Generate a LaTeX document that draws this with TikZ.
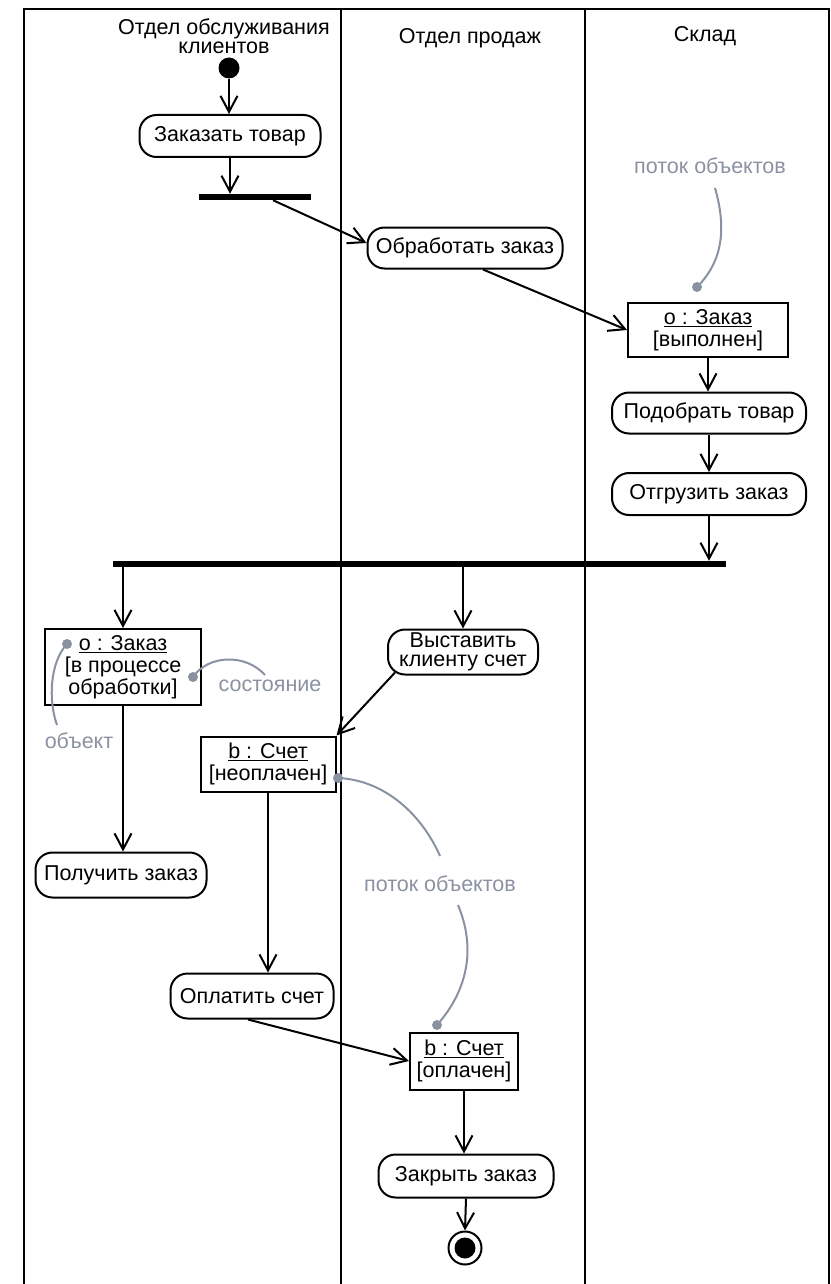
\documentclass[tikz,border=0pt]{standalone}
\usepackage{fontspec}
\setmainfont{Liberation Sans}
\usetikzlibrary{arrows.meta,calc}
\definecolor{notegray}{RGB}{138,146,162}
\tikzset{
  action/.style={draw, line width=2pt, rounded corners=17pt, minimum height=42pt, inner sep=0pt, align=center, font=\fontsize{21.5}{22}\selectfont},
  objbox/.style={draw, line width=2pt, rectangle, inner sep=0pt, align=center, font=\fontsize{21.5}{22}\selectfont},
  forkbar/.style={fill=black, inner sep=0pt, minimum height=6pt},
  flow/.style={line width=2pt, -{Straight Barb[length=16pt,width=17pt]}},
  noteline/.style={draw=notegray, line width=2pt},
  notedot/.style={circle, fill=notegray, inner sep=0pt, minimum size=10pt},
  notetext/.style={text=notegray, font=\fontsize{21.5}{22}\selectfont, inner sep=0pt},
  header/.style={font=\fontsize{21.5}{19.5}\selectfont, align=center, inner sep=0pt},
}
\begin{document}
\begin{tikzpicture}[x=1pt,y=-1pt]
\useasboundingbox (0,0) rectangle (830,1284);
% swimlane frame
\draw[line width=2pt] (24,1284) -- (24,9) -- (829,9) -- (829,1284);
\draw[line width=2pt] (341,9) -- (341,1284);
\draw[line width=2pt] (585,9) -- (585,1284);
% headers
\node[header] (h1) at (224,36) {Отдел обслуживания\\клиентов};
\node[header] (h2) at (470,38) {Отдел продаж};
\node[header] (h3) at (705,36) {Склад};
% nodes
\node[circle, fill=black, minimum size=21pt, inner sep=0pt] (init) at (229,68) {};
\node[action, minimum width=181pt] (a1) at (230,136) {Заказать товар};
\node[forkbar, minimum width=112pt] (b1) at (255,197) {};
\node[action, minimum width=195pt, minimum height=41pt] (a2) at (465,248) {Обработать заказ};
\node[objbox, minimum width=160pt, minimum height=54pt] (o1) at (708,330) {\underline{o : Заказ}\\{}[выполнен]};
\node[action, minimum width=194pt, minimum height=41pt] (a3) at (709,413) {Подобрать товар};
\node[action, minimum width=194pt] (a4) at (709,494) {Отгрузить заказ};
\node[forkbar, minimum width=613pt] (b2) at (419.5,564) {};
\node[objbox, minimum width=156pt, minimum height=76pt] (o2) at (123,667) {\underline{o : Заказ}\\{}[в процессе\\обработки]};
\node[action, minimum width=150pt, minimum height=45pt, font=\fontsize{21.5}{19}\selectfont] (a5) at (463,652) {Выставить\\клиенту счет};
\node[objbox, minimum width=135pt, minimum height=55pt] (o3) at (268,764) {\underline{b : Счет}\\{}[неоплачен]};
\node[action, minimum width=171pt, minimum height=45pt] (a6) at (121,875) {Получить заказ};
\node[action, minimum width=163pt, minimum height=45pt] (a7) at (252,996) {Оплатить счет};
\node[objbox, minimum width=108pt, minimum height=57pt] (o4) at (464,1061) {\underline{b : Счет}\\{}[оплачен]};
\node[action, minimum width=175pt, minimum height=43pt] (a8) at (466,1176) {Закрыть заказ};
\node[circle, draw, line width=2pt, minimum size=33pt, inner sep=0pt] (fin) at (465,1248) {};
\node[circle, fill=black, minimum size=21pt, inner sep=0pt] (finin) at (fin.center) {};
% flows
\draw[flow] (init.south) -- (init.south |- a1.north);
\draw[flow] (a1.south) -- (a1.south |- b1.north);
\draw[flow] ([xshift=18pt]b1.south) -- ([yshift=5pt]a2.west);
\draw[flow] ([xshift=18pt]a2.south) -- (o1.west);
\draw[flow] (o1.south) -- (o1.south |- a3.north);
\draw[flow] (a3.south) -- (a4.north);
\draw[flow] (a4.south) -- (a4.south |- b2.north);
\draw[flow] (b2.south -| o2.north) -- (o2.north);
\draw[flow] (b2.south -| a5.north) -- (a5.north);
\draw[flow] ($(a5.south west)+(8,-3)$) -- (o3.north east);
\draw[flow] (o2.south) -- (o2.south |- a6.north);
\draw[flow] (o3.south) -- (o3.south |- a7.north);
\draw[flow] ([xshift=-4pt]a7.south) -- (o4.west);
\draw[flow] (o4.south) -- (o4.south |- a8.north);
\draw[flow] (a8.south) -- (fin.north);
% notes
\node[notetext] (n1) at (710,166) {поток объектов};
\coordinate (n1s) at (715,188);
\node[notedot] (d1) at (697,287) {};
\draw[noteline] (n1s) .. controls (727,230) and (722,262) .. (d1.center);
\node[notetext] (n2) at (79,741) {объект};
\node[notedot] (d2) at (67,644) {};
\coordinate (n2s) at (57,725);
\draw[noteline] (d2.center) .. controls (50,662) and (48,700) .. (n2s);
\node[notetext] (n3) at (270,686) {состояние};
\node[notedot] (d3) at (193,677) {};
\coordinate (n3s) at (265,675);
\draw[noteline] (d3.center) .. controls (208,655) and (245,653) .. (n3s);
\node[notetext] (n4) at (440,884) {поток объектов};
\node[notedot] (d4) at (338,778) {};
\coordinate (n4s) at (440,856);
\draw[noteline] (d4.center) .. controls (385,780) and (422,815) .. (n4s);
\coordinate (n4t) at (458,905);
\node[notedot] (d5) at (437,1025) {};
\draw[noteline] (n4t) .. controls (476,948) and (468,990) .. (d5.center);
\end{tikzpicture}
\end{document}
